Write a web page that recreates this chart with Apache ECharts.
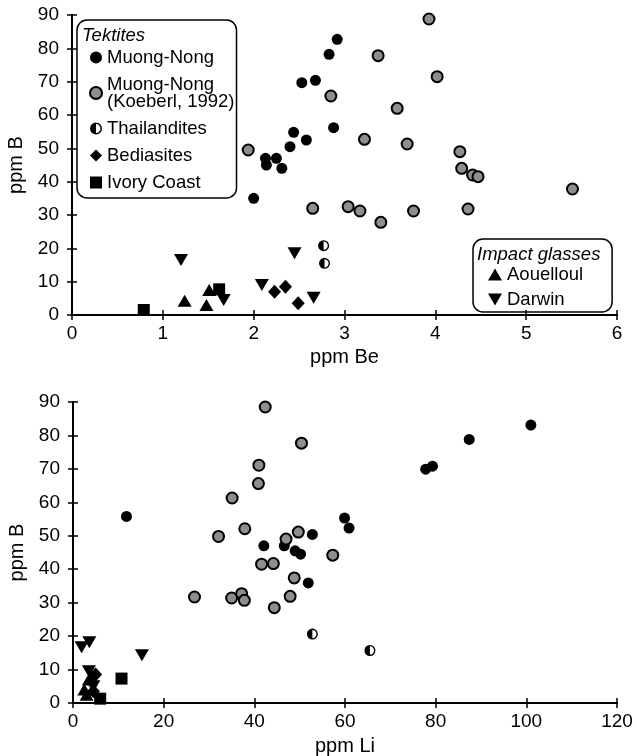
<!DOCTYPE html>
<html>
<head>
<meta charset="utf-8">
<script src="https://cdn.jsdelivr.net/npm/echarts@6/dist/echarts.min.js"></script>
<style>
  html, body { margin: 0; padding: 0; background: #fff; }
  #chart { width: 637px; height: 756px; }
</style>
</head>
<body>
<div id="chart"></div>
<script>
// ppm Be vs ppm B (top panel)
var mnBe = [[2.0,35],[2.13,47],[2.14,45],[2.25,47],[2.31,44],[2.40,50.5],[2.44,54.8],[2.58,52.5],[2.53,69.7],[2.68,70.4],[2.83,78.2],[2.92,82.7],[2.88,56.2]]
var koeBe = [[1.94,49.5],[3.93,88.8],[3.37,77.8],[4.02,71.5],[2.85,65.7],[3.58,62],[3.22,52.7],[3.69,51.3],[4.27,49],[4.29,44],[4.41,42],[4.47,41.5],[5.51,37.8],[2.65,32],[3.04,32.5],[3.17,31.2],[3.40,27.8],[3.76,31.2],[4.36,31.8]]
var thaiBe = [[2.77,20.8],[2.78,15.5]]
var bedBe = [[2.23,7],[2.35,8.5],[2.49,3.5]]
var ivoryBe = [[0.79,1.5],[1.62,7.7]]
var aouBe = [[1.24,4.3],[1.48,3.0],[1.51,7.5]]
var darBe = [[1.20,16.5],[1.67,4.5],[2.09,9.0],[2.45,18.5],[2.66,5.2]]

// ppm Li vs ppm B (bottom panel)
var mnLi = [[11.8,55.8],[42.1,47],[46.6,47],[49,45.5],[50.2,44.5],[52.8,50.4],[51.9,35.9],[59.9,55.3],[60.9,52.3],[77.8,69.9],[79.3,70.8],[87.4,78.8],[101,83.1]]
var koeLi = [[42.4,88.5],[50.4,77.7],[41,71.1],[40.9,65.6],[35.1,61.3],[32.1,49.8],[37.9,52.1],[47,49],[49.7,51.1],[41.6,41.5],[44.2,41.7],[48.8,37.4],[47.9,31.9],[26.8,31.7],[35,31.4],[37.2,32.7],[37.8,30.7],[44.4,28.5],[57.3,44.2]]
var thaiLi = [[52.8,20.6],[65.5,15.7]]
var bedLi = [[5,8.5],[4,6.5],[4.5,3.5]]
var ivoryLi = [[6,1.3],[10.7,7.3]]
var aouLi = [[2.5,4],[3,2.5],[3.5,7]]
var darLi = [[1.9,16.7],[3.6,18.2],[15.2,14.3],[3.5,9.5],[4.5,5]]

var names = ['Muong-Nong', 'Muong-Nong\n(Koeberl, 1992)', 'Thailandites', 'Bediasites', 'Ivory Coast', 'Aouelloul', 'Darwin']

var FONT = 'Liberation Sans'
var halfCircle = 'path://M10,0 A10,10 0 0,0 10,20 Z M10,0 A10,10 0 0,1 10,20 L10,17.5 A7.5,7.5 0 0,0 10,2.5 Z'
var downTri = 'path://M0,0 L14,0 L7,12 Z'

function styleFor(name) {
  switch (name) {
    case names[0]: return { symbol: 'circle', symbolSize: 11, itemStyle: { color: '#000' } }
    case names[1]: return { symbol: 'circle', symbolSize: 11, itemStyle: { color: '#8e8e8e', borderColor: '#000', borderWidth: 2 } }
    case names[2]: return { symbol: halfCircle, symbolSize: 11, itemStyle: { color: '#000' } }
    case names[3]: return { symbol: 'diamond', symbolSize: [13, 14], itemStyle: { color: '#000' } }
    case names[4]: return { symbol: 'rect', symbolSize: 12, itemStyle: { color: '#000' } }
    case names[5]: return { symbol: 'triangle', symbolSize: [14, 12], itemStyle: { color: '#000' } }
    case names[6]: return { symbol: downTri, symbolSize: [14, 12], itemStyle: { color: '#000' } }
  }
}

function makeSeries(name, data, gridIdx) {
  var s = styleFor(name)
  s.itemStyle.opacity = 1
  s.type = 'scatter'
  s.name = name
  s.data = data
  s.xAxisIndex = gridIdx
  s.yAxisIndex = gridIdx
  s.emphasis = { disabled: true }
  return s
}

var series = []
var topSets = [mnBe, koeBe, thaiBe, bedBe, ivoryBe, aouBe, darBe]
var botSets = [mnLi, koeLi, thaiLi, bedLi, ivoryLi, aouLi, darLi]
for (var i = 0; i < names.length; i++) {
  series.push(makeSeries(names[i], topSets[i], 0))
  series.push(makeSeries(names[i], botSets[i], 1))
}

var labelStyle = { color: '#000', fontSize: 19, fontFamily: FONT }
var nameStyle = { color: '#000', fontSize: 20, fontFamily: FONT }
var lineStyle = { lineStyle: { color: '#000', width: 2 } }
var tickStyle = { inside: true, length: 5, lineStyle: { color: '#000', width: 1.5 } }

function mainX(grid, max, interval, name, gap) {
  return {
    type: 'value', gridIndex: grid, min: 0, max: max, interval: interval,
    name: name, nameLocation: 'middle', nameGap: gap, nameTextStyle: nameStyle,
    axisLine: lineStyle, splitLine: { show: false }, axisTick: tickStyle,
    axisLabel: Object.assign({ margin: 9 }, labelStyle)
  }
}
function mainY(grid, name) {
  return {
    type: 'value', gridIndex: grid, min: 0, max: 90, interval: 10,
    name: name, nameLocation: 'middle', nameGap: 42, nameTextStyle: nameStyle,
    axisLine: lineStyle, splitLine: { show: false }, axisTick: tickStyle,
    axisLabel: Object.assign({ margin: 13 }, labelStyle)
  }
}
function mirror(grid, max, interval, pos) {
  return {
    type: 'value', gridIndex: grid, min: 0, max: max, interval: interval, position: pos,
    axisLine: lineStyle, splitLine: { show: false }, axisLabel: { show: false },
    axisTick: tickStyle
  }
}

var legendText = { color: '#000', fontSize: 18.5, fontFamily: FONT, lineHeight: 17 }

var option = {
  animation: false,
  backgroundColor: '#fff',
  textStyle: { fontFamily: FONT },
  grid: [
    { left: 72, right: 20, top: 15, height: 300, outerBoundsMode: 'none' },
    { left: 73, right: 20, top: 402, height: 301, outerBoundsMode: 'none' }
  ],
  xAxis: [
    mainX(0, 6, 1, 'ppm Be', 32),
    mainX(1, 120, 20, 'ppm Li', 33),
    mirror(0, 6, 1, 'top'),
    mirror(1, 120, 20, 'top')
  ],
  yAxis: [
    mainY(0, 'ppm B'),
    mainY(1, 'ppm B'),
    mirror(0, 90, 10, 'right'),
    mirror(1, 90, 10, 'right')
  ],
  legend: [
    {
      data: names.slice(0, 5),
      orient: 'vertical', left: 77, top: 20,
      padding: [28, 2, 6, 12], itemGap: 8,
      itemWidth: 12, itemHeight: 12,
      borderColor: '#000', borderWidth: 1.5, borderRadius: 10,
      selectedMode: false,
      textStyle: legendText
    },
    {
      data: names.slice(5),
      orient: 'vertical', left: 473, top: 239,
      padding: [26, 29, 3, 15], itemGap: 6,
      itemWidth: 14, itemHeight: 12,
      borderColor: '#000', borderWidth: 1.5, borderRadius: 10,
      selectedMode: false,
      textStyle: legendText
    }
  ],
  graphic: [
    { type: 'text', left: 82, top: 26, style: { text: 'Tektites', font: 'italic 18.5px "Liberation Sans"', fill: '#000' } },
    { type: 'text', left: 477, top: 245, style: { text: 'Impact glasses', font: 'italic 18.5px "Liberation Sans"', fill: '#000' } }
  ],
  series: series
}

var chart = echarts.init(document.getElementById('chart'), null, { renderer: 'canvas' })
chart.setOption(option)
</script>
</body>
</html>
